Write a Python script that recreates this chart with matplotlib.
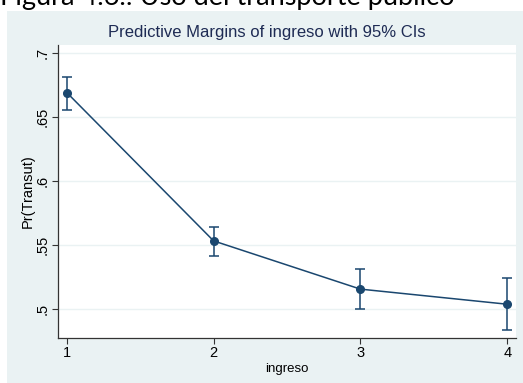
import matplotlib.pyplot as plt
from matplotlib.patches import Rectangle

# predictive margins
ingreso = [1, 2, 3, 4]
margin = [0.6688, 0.5529, 0.5152, 0.5034]
ci_low = [0.6553, 0.5412, 0.4998, 0.4834]
ci_high = [0.6813, 0.5636, 0.5308, 0.5238]
yticks = [0.5, 0.55, 0.6, 0.65, 0.7]
yticklabels = ['.5', '.55', '.6', '.65', '.7']

navy = '#1a476f'
bg = '#eaf2f3'

plt.rcParams['font.family'] = ['Liberation Sans', 'DejaVu Sans']

fig = plt.figure(figsize=(5.23, 3.83), dpi=100)
fig.patch.set_facecolor('white')
fig.patches.append(Rectangle((7 / 523, 0), 1 - 7 / 523, 1 - 11 / 383,
                             transform=fig.transFigure, facecolor=bg,
                             edgecolor='none', zorder=-1))

# cut-off caption of the document at the top
fig.text(0.0, 1 - 5 / 383, 'Figura 4.6.: Uso del transporte público',
         fontsize=19.5, family='Lato', va='baseline', ha='left', color='black')

ax = fig.add_axes([58 / 523, 45 / 383, 458 / 523, 293 / 383])
ax.set_facecolor('white')

err = [[m - lo for m, lo in zip(margin, ci_low)],
       [hi - m for m, hi in zip(margin, ci_high)]]
ax.errorbar(ingreso, margin, yerr=err, fmt='-o', color=navy, ms=5.5,
            lw=1.1, elinewidth=1.1, capsize=3.5, capthick=1.1)

ax.set_xlim(0.94, 4.06)
ax.set_ylim(0.477, 0.706)
ax.set_xticks(ingreso)
ax.set_yticks(yticks)
ax.set_yticklabels(yticklabels, rotation=90, va='center')
ax.grid(axis='y', color=bg, lw=1)
ax.set_axisbelow(True)

for s in ['top', 'right']:
    ax.spines[s].set_visible(False)
for s in ['left', 'bottom']:
    ax.spines[s].set_color('#333333')
    ax.spines[s].set_linewidth(0.9)
ax.tick_params(direction='out', length=4, width=0.8, labelsize=10.5,
               color='#333333', pad=2)

ax.set_xlabel('ingreso', fontsize=9.5, labelpad=2)
ax.set_ylabel('Pr(Transut)', fontsize=10.5)
ax.yaxis.set_label_coords(-23 / 458, 0.5)
fig.text(267 / 523, 1 - 33 / 383, 'Predictive Margins of ingreso with 95% CIs',
         ha='center', va='center', fontsize=12, color='#1e2b54')

fig.savefig('out.png', dpi=100)
